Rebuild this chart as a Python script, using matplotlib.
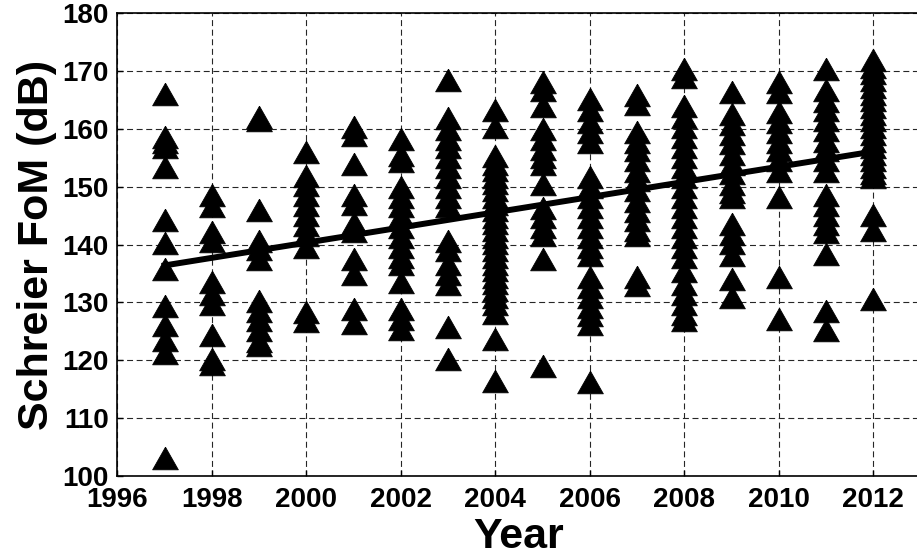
import numpy as np
import matplotlib
matplotlib.use("Agg")
import matplotlib.pyplot as plt

plt.rcParams['font.family'] = ['Liberation Sans', 'DejaVu Sans']
plt.rcParams['font.weight'] = 'bold'
plt.rcParams['lines.scale_dashes'] = False

# Schreier FoM values (dB), one list per year
years = list(range(1997, 2013))
fom = {
    1997: [166.1, 158.6, 157.8, 156.9, 153.4, 144.2, 140.2, 135.8, 129.4, 126.1, 123.5, 121.3, 103.1],
    1998: [148.5, 146.6, 142.2, 140.7, 133.5, 131.5, 129.8, 124.3, 120.3, 119.4],
    1999: [162.1, 161.5, 146.0, 140.7, 139.3, 137.6, 130.3, 128.6, 126.9, 125.2, 123.4, 122.7],
    2000: [156.0, 151.9, 150.3, 148.6, 146.8, 145.1, 143.4, 141.6, 139.6, 128.3, 126.8],
    2001: [160.4, 159.0, 154.0, 148.5, 147.1, 143.7, 142.3, 137.6, 134.9, 128.9, 126.4],
    2002: [158.3, 155.5, 154.5, 150.0, 148.3, 146.6, 144.9, 143.1, 141.4, 139.6, 137.9, 136.7,
           133.5, 128.9, 127.2, 125.5],
    2003: [168.5, 161.9, 160.0, 158.3, 156.9, 155.1, 153.4, 151.7, 150.0, 148.2, 146.6, 140.7,
           139.0, 136.7, 135.0, 133.2, 125.7, 120.3],
    2004: [163.2, 160.4, 155.4, 154.0, 152.9, 151.7, 150.6, 149.4, 148.3, 147.1, 146.0, 144.8,
           143.7, 142.5, 141.4, 140.2, 139.1, 137.9, 136.7, 135.6, 134.4, 133.3, 132.1, 131.0,
           129.8, 128.1, 123.7, 116.5],
    2005: [168.1, 166.7, 163.9, 160.0, 158.3, 156.6, 155.2, 154.0, 150.4, 146.3, 144.8, 143.1,
           141.6, 137.6, 119.1],
    2006: [165.2, 163.2, 161.2, 159.5, 157.8, 151.7, 150.0, 148.2, 146.5, 144.8, 143.0, 141.3,
           139.6, 138.2, 134.4, 132.7, 130.9, 129.2, 127.8, 126.3, 116.2],
    2007: [165.8, 164.4, 159.5, 157.7, 156.3, 154.6, 152.8, 151.1, 149.4, 147.6, 145.9, 144.2,
           142.5, 141.6, 134.4, 133.0],
    2008: [170.3, 169.0, 163.9, 162.1, 160.3, 158.6, 156.9, 155.1, 153.4, 151.7, 150.0, 148.2,
           146.5, 144.8, 143.0, 141.3, 139.6, 137.8, 135.5, 133.2, 131.5, 129.8, 128.0, 126.9],
    2009: [166.4, 162.6, 160.9, 159.2, 157.5, 155.7, 154.0, 152.3, 150.5, 149.1, 148.3, 143.6,
           141.9, 140.2, 138.2, 134.1, 130.9],
    2010: [168.1, 166.4, 162.9, 161.2, 159.5, 157.7, 156.3, 154.6, 152.8, 148.2, 134.4, 127.2],
    2011: [170.3, 166.7, 164.9, 163.2, 161.5, 159.8, 158.0, 156.3, 154.6, 152.8, 148.5, 146.8,
           145.1, 143.6, 142.2, 138.4, 128.6, 125.3],
    2012: [171.9, 170.7, 169.6, 168.4, 167.3, 166.1, 165.0, 163.8, 162.6, 161.5, 160.3, 159.2,
           158.0, 156.9, 155.7, 154.6, 153.4, 152.3, 151.7, 145.1, 142.5, 130.6],
}
# trend line as drawn on the chart (value at first and last year)
trend_years = [1997, 2012]
trend_fom = [136.4, 156.1]

xticks = list(range(1996, 2013, 2))
yticks = list(range(100, 181, 10))

x = np.concatenate([[y] * len(fom[y]) for y in years])
v = np.concatenate([fom[y] for y in years])

fig = plt.figure(figsize=(9.17, 5.56), dpi=100)
ax = fig.add_axes([0.1279, 0.1439, 0.876, 0.8322])

tri = [(0, 0.88), (-1, -0.88), (1, -0.88), (0, 0.88)]
ax.plot(x, v, linestyle='none', marker=tri, markersize=18.5,
        color='black', markeredgewidth=0.6, zorder=3)
ax.plot(trend_years, trend_fom, color='black', linewidth=4.3, zorder=4)

ax.set_xlim(1996, 2013)
ax.set_ylim(100, 180)
ax.set_xticks(xticks)
ax.set_yticks(yticks)
ax.tick_params(direction='in', length=4, width=1, labelsize=20)
ax.tick_params(axis='x', pad=8)
ax.tick_params(axis='y', pad=6)
for lab in ax.get_xticklabels() + ax.get_yticklabels():
    lab.set_fontweight('bold')

ax.grid(True, color='0.15', linestyle=(0, (4.3, 2.6)), linewidth=0.8)
ax.set_axisbelow(True)
for s in ax.spines.values():
    s.set_linewidth(1.2)

ax.set_xlabel('Year', fontsize=31, fontweight='bold', labelpad=3)
ax.set_ylabel('Schreier FoM (dB)', fontsize=31, fontweight='bold', labelpad=4)

fig.savefig('out.png', dpi=100)
